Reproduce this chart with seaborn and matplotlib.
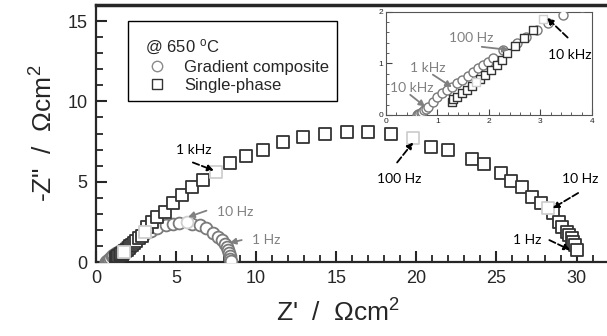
import numpy as np
import pandas as pd
import seaborn as sns
import matplotlib.pyplot as plt
from matplotlib.lines import Line2D
from matplotlib.ticker import MultipleLocator

# Nyquist data (ohm cm2)
gc_x = [0.60, 0.62, 0.65, 0.68, 0.70, 0.74, 0.78, 0.82, 0.91, 1.00, 1.08, 1.18, 1.28, 1.38,
        1.48, 1.59, 1.69, 1.79, 1.88, 1.98, 2.08, 2.27, 2.54, 2.73, 2.93, 3.15, 3.44,
        3.80, 4.40, 4.80, 5.20, 6.00, 6.50, 6.90, 7.30, 7.60, 7.85, 8.05, 8.20, 8.25,
        8.30, 8.36, 8.40, 8.42]
gc_y = [0.00, 0.01, 0.02, 0.04, 0.06, 0.09, 0.12, 0.16, 0.25, 0.35, 0.43, 0.49, 0.54, 0.62,
        0.68, 0.76, 0.83, 0.91, 0.97, 1.03, 1.10, 1.26, 1.40, 1.52, 1.65, 1.78, 1.94,
        2.10, 2.30, 2.40, 2.43, 2.40, 2.30, 2.10, 1.80, 1.55, 1.37, 1.12, 0.93, 0.75,
        0.56, 0.37, 0.20, 0.05]

sp_x = [1.28, 1.30, 1.38, 1.48, 1.57, 1.67, 1.83, 1.92, 2.04, 2.15, 2.25, 2.35, 2.50, 2.68,
        2.85, 3.20, 3.50, 3.80, 4.30, 4.80, 5.40, 6.00, 6.67, 8.36, 9.36, 10.4, 11.7,
        12.9, 14.3, 15.7, 17.0, 18.4, 20.9, 22.0, 23.5, 24.2, 25.3, 25.9, 26.6, 27.2,
        27.8, 28.5, 28.9, 29.1, 29.4, 29.5, 29.7, 29.8, 29.9, 30.05]
sp_y = [0.25, 0.31, 0.35, 0.43, 0.49, 0.56, 0.70, 0.78, 0.87, 0.97, 1.07, 1.20, 1.34, 1.49,
        1.65, 2.17, 2.48, 2.80, 3.10, 3.66, 4.16, 4.66, 5.10, 6.15, 6.60, 7.00, 7.45,
        7.80, 7.95, 8.07, 8.07, 7.95, 7.14, 6.96, 6.40, 6.09, 5.53, 5.03, 4.66, 4.04,
        3.66, 3.04, 2.48, 2.17, 1.86, 1.68, 1.49, 1.24, 1.06, 0.75]

# decade frequency points, drawn with a light edge
gc_dec_x = [5.70]
gc_dec_y = [2.50]
sp_dec_x = [1.75, 3.05, 7.49, 19.8, 28.2]
sp_dec_y = [0.63, 1.86, 5.59, 7.70, 3.35]

gc = pd.DataFrame({"x": gc_x, "y": gc_y})
sp = pd.DataFrame({"x": sp_x, "y": sp_y})
gc_dec = pd.DataFrame({"x": gc_dec_x, "y": gc_dec_y})
sp_dec = pd.DataFrame({"x": sp_dec_x, "y": sp_dec_y})

sns.set_style("ticks")
plt.rcParams["font.family"] = ["Liberation Sans", "DejaVu Sans"]
plt.rcParams["mathtext.fontset"] = "custom"
plt.rcParams["mathtext.rm"] = "Liberation Sans"
plt.rcParams["mathtext.it"] = "Liberation Sans"

GC_EDGE = "#7a7a7a"
SP_EDGE = "#333333"
DEC_EDGE = "#cfcfcf"
GREY_NOTE = "#808080"
NOTE_FONT = ["Lato", "DejaVu Sans"]


def draw_points(ax, ms_c, ms_s, lw):
    sns.scatterplot(data=gc, x="x", y="y", ax=ax, marker="o", s=ms_c ** 2,
                    facecolor="white", edgecolor=GC_EDGE, linewidth=lw, zorder=3)
    sns.scatterplot(data=gc_dec, x="x", y="y", ax=ax, marker="o", s=ms_c ** 2,
                    facecolor="white", edgecolor=DEC_EDGE, linewidth=lw, zorder=3)
    sns.scatterplot(data=sp, x="x", y="y", ax=ax, marker="s", s=ms_s ** 2,
                    facecolor="white", edgecolor=SP_EDGE, linewidth=lw, zorder=4)
    sns.scatterplot(data=sp_dec, x="x", y="y", ax=ax, marker="s", s=ms_s ** 2,
                    facecolor="white", edgecolor=DEC_EDGE, linewidth=lw, zorder=4)


def note(ax, text, txt_xy, start, end, color, dashed, size=10):
    ax.text(*txt_xy, text, ha="center", va="center", fontsize=size, color=color,
            family=NOTE_FONT, zorder=6)
    ax.annotate("", xy=end, xytext=start, zorder=6,
                arrowprops=dict(arrowstyle="-|>", color=color, lw=1.3,
                                linestyle="--" if dashed else "-",
                                mutation_scale=9, shrinkA=0, shrinkB=0))


fig = plt.figure(figsize=(6.07, 3.36), dpi=100)
ax = fig.add_axes([0.158, 0.22, 0.842, 0.765])
draw_points(ax, 8.5, 8.2, 1.3)
ax.set_xlim(0, 31.9)
ax.set_ylim(0, 16)
ax.xaxis.set_major_locator(MultipleLocator(5))
ax.xaxis.set_minor_locator(MultipleLocator(1))
ax.yaxis.set_major_locator(MultipleLocator(5))
ax.yaxis.set_minor_locator(MultipleLocator(1))
ax.tick_params(which="major", direction="in", length=8, width=1.5, labelsize=13, pad=6)
ax.tick_params(which="minor", direction="in", length=5, width=1.3)
ax.spines["right"].set_visible(False)
ax.spines["top"].set_linewidth(2.5)
ax.spines["left"].set_linewidth(1.6)
ax.spines["bottom"].set_linewidth(1.6)
ax.set_xlabel("Z'  /  $\\Omega$cm$^2$", fontsize=19)
ax.xaxis.set_label_coords(0.474, -0.145)
ax.set_ylabel('-Z"  /  $\\Omega$cm$^2$', fontsize=19, labelpad=7)

# main-plot frequency labels
note(ax, "1 kHz", (6.1, 7.0), (6.05, 6.2), (7.36, 5.7), "black", True)
note(ax, "100 Hz", (18.9, 5.2), (18.8, 6.2), (19.8, 7.45), "black", True)
note(ax, "10 Hz", (30.2, 5.2), (30.1, 4.3), (28.5, 3.35), "black", True)
note(ax, "1 Hz", (26.9, 1.37), (28.3, 1.37), (29.6, 0.75), "black", True)
note(ax, "10 Hz", (8.7, 3.1), (6.9, 3.2), (5.75, 2.8), GREY_NOTE, False)
note(ax, "1 Hz", (10.6, 1.37), (9.1, 1.37), (8.35, 1.2), GREY_NOTE, False)

handles = [
    Line2D([], [], marker="o", ls="none", ms=7.5, mfc="white", mec="#8a8a8a", mew=1.0),
    Line2D([], [], marker="s", ls="none", ms=7.5, mfc="white", mec=SP_EDGE, mew=1.0),
]
leg = ax.legend(handles, ["Gradient composite", "Single-phase"],
                title="\n  @ 650 $^{\\rm o}$C", loc="upper left",
                bbox_to_anchor=(0.047, 0.969), fontsize=12, title_fontsize=12,
                alignment="left", fancybox=False, framealpha=1, edgecolor="black",
                borderpad=0.45, labelspacing=0.2, handlelength=2.6, handletextpad=0.3)
leg.get_title().set_linespacing(0.55)
leg.get_frame().set_linewidth(1.0)

# inset zoom on the high-frequency region
ins = fig.add_axes([0.636, 0.658, 0.339, 0.307])
draw_points(ins, 6.5, 6.0, 1.0)
ins.set_xlim(0, 4)
ins.set_ylim(0, 2)
ins.set_xlabel("")
ins.set_ylabel("")
ins.xaxis.set_major_locator(MultipleLocator(1))
ins.xaxis.set_minor_locator(MultipleLocator(0.2))
ins.yaxis.set_major_locator(MultipleLocator(1))
ins.yaxis.set_minor_locator(MultipleLocator(0.2))
ins.tick_params(which="major", direction="in", length=4, width=0.8, labelsize=6, pad=2,
                color="#444444")
ins.tick_params(which="minor", direction="in", length=2, width=0.6, color="#444444")
for s in ins.spines.values():
    s.set_linewidth(0.8)
    s.set_color("#555555")

note(ins, "100 Hz", (1.65, 1.5), (1.86, 1.32), (2.39, 1.26), GREY_NOTE, False)
note(ins, "1 kHz", (0.82, 0.91), (0.91, 0.78), (1.28, 0.54), GREY_NOTE, False)
note(ins, "10 kHz", (0.49, 0.52), (0.47, 0.39), (0.76, 0.16), GREY_NOTE, False)
note(ins, "10 kHz", (3.57, 1.17), (3.53, 1.5), (3.13, 1.88), "black", True)

fig.savefig("out.png", dpi=100)
